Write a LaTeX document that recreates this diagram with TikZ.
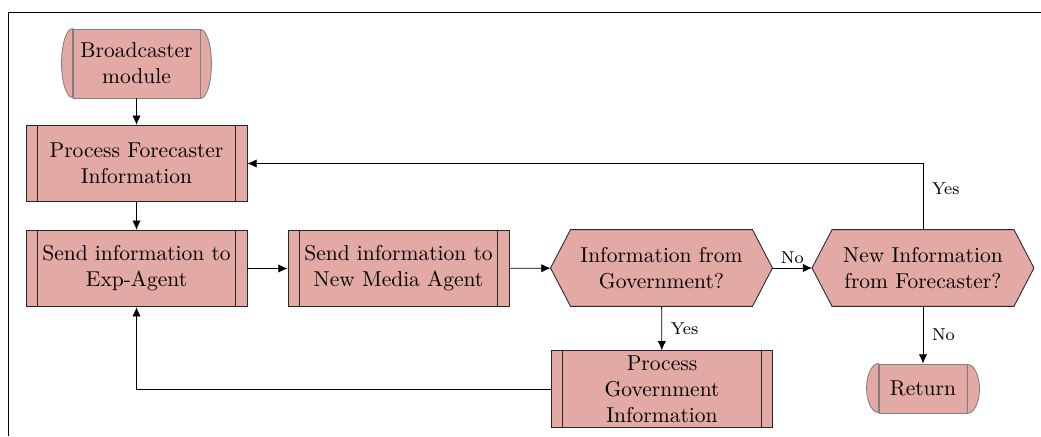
\documentclass[tikz,border=0pt]{standalone}
\usetikzlibrary{backgrounds,arrows.meta}
\definecolor{boxfill}{RGB}{226,169,165}
\begin{document}
\begin{tikzpicture}[x=0.465pt,y=-0.465pt,
  base/.style={align=center,font=\normalsize,inner sep=0pt},
  procbox/.style={base,rectangle,draw=black!85,fill=boxfill,minimum width=102.8pt,minimum height=35.6pt,
    path picture={\draw[black!85] ([xshift=5.3pt]path picture bounding box.north west) -- ([xshift=5.3pt]path picture bounding box.south west);
      \draw[black!85] ([xshift=-5.3pt]path picture bounding box.north east) -- ([xshift=-5.3pt]path picture bounding box.south east);}},
  termbox/.style={base,rectangle,draw=gray,fill=boxfill},
  hexbox/.style={base,rectangle,minimum width=102.8pt,minimum height=35.3pt},
  conn/.style={-{Latex[length=4.3pt,width=3.9pt]},black},
  lab/.style={font=\footnotesize,inner sep=2pt}]
\useasboundingbox (0,0) rectangle (1041,436);
\draw[black] (8,436) -- (8,12) -- (1041,12);

% nodes
\node[termbox,minimum width=59.1pt,minimum height=32.1pt] (bc) at (136.5,63.5) {Broadcaster\\module};
\node[procbox] (pf) at (136.5,163.5) {Process Forecaster\\Information};
\node[procbox] (ea) at (136.5,268.5) {Send information to\\Exp-Agent};
\node[procbox] (nm) at (398.5,268.5) {Send information to\\New Media Agent};
\node[hexbox] (gov) at (661.5,268) {Information from\\Government?};
\node[hexbox] (nf) at (923,268) {New Information\\from Forecaster?};
\node[procbox] (pg) at (662,389) {Process\\Government\\Information};
\node[termbox,minimum width=40.9pt,minimum height=22.8pt] (ret) at (923,388.5) {Return};

% shape outlines
\filldraw[draw=gray,fill=boxfill] (bc.north west) arc[start angle=90,end angle=270,x radius=5.1pt,y radius=16.05pt] -- cycle;
\filldraw[draw=gray,fill=boxfill] (bc.south east) arc[start angle=-90,end angle=90,x radius=5.1pt,y radius=16.05pt] -- cycle;
\filldraw[draw=gray,fill=boxfill] (ret.north west) arc[start angle=90,end angle=270,x radius=5.6pt,y radius=11.4pt] -- cycle;
\filldraw[draw=gray,fill=boxfill] (ret.south east) arc[start angle=-90,end angle=90,x radius=5.6pt,y radius=11.4pt] -- cycle;
\begin{scope}[on background layer]
\foreach \n in {gov,nf}{
  \filldraw[draw=black!85,fill=boxfill] (\n.west) -- ([xshift=9.3pt]\n.north west) -- ([xshift=-9.3pt]\n.north east) -- (\n.east) -- ([xshift=-9.3pt]\n.south east) -- ([xshift=9.3pt]\n.south west) -- cycle;
}
\end{scope}

% connectors
\draw[conn] (bc) -- (pf);
\draw[conn] (pf) -- (ea);
\draw[conn] (ea) -- (nm);
\draw[conn] (nm) -- (gov);
\draw[conn] (gov) -- node[lab,above] {No} (nf);
\draw[conn] (gov) -- node[lab,right,xshift=2pt] {Yes} (pg);
\draw[conn] (nf) -- node[lab,right,xshift=2pt] {No} (ret);
\draw[conn] (nf.north) |- node[lab,right,pos=0.31,xshift=2pt] {Yes} (pf.east);
\draw[conn] (pg.west) -| (ea.south);
\end{tikzpicture}
\end{document}
